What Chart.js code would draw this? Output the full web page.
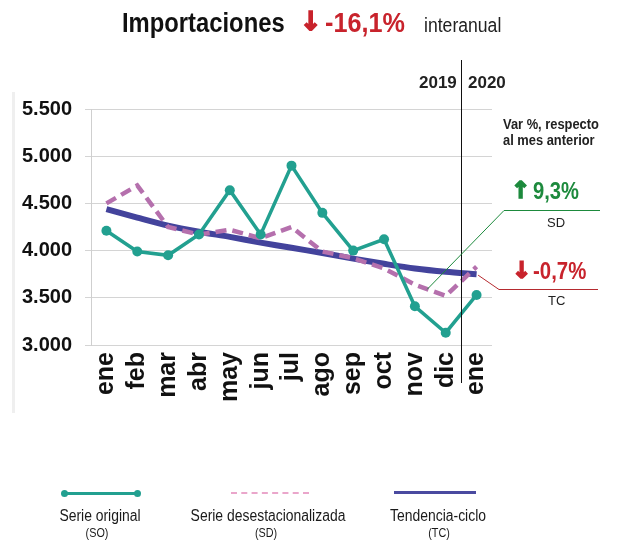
<!DOCTYPE html>
<html lang="es">
<head>
    <meta charset="UTF-8">
    <title>Importaciones</title>
    <script src="https://cdn.jsdelivr.net/npm/chart.js"></script>
    <style>
        body {
            margin: 0;
            width: 622px;
            height: 541px;
            position: relative;
            background: #fff;
            font-family: 'Liberation Sans', Arial, sans-serif;
            color: #1a1a1a;
            overflow: hidden;
        }
        .t { position: absolute; white-space: nowrap; transform-origin: left top; line-height: 1; }
        .c { position: absolute; white-space: nowrap; line-height: 1; transform: translateX(-50%); text-align: center; }
        .arr { position: absolute; white-space: nowrap; line-height: 1; font-family: 'DejaVu Sans', sans-serif; font-weight: bold; -webkit-text-stroke: 1.6px currentColor; }
        #chartBox { position: absolute; left: 0; top: 0; width: 622px; height: 541px; }
        .leftbar { position: absolute; left: 12px; top: 92px; width: 3px; height: 321px; background: #efefef; }
    </style>
</head>
<body>
    <div class="leftbar"></div>
    <div id="chartBox"><canvas id="impChart"></canvas></div>

    <div class="t" style="left:122px;top:9px;font-size:28px;font-weight:bold;color:#111;transform:scaleX(0.85)">Importaciones</div>
    <div class="arr" style="left:300px;top:8px;font-size:26px;color:#c8232c">↓</div>
    <div class="t" style="left:325px;top:9px;font-size:28px;font-weight:bold;color:#c8232c;transform:scaleX(0.9)">-16,1%</div>
    <div class="t" style="left:424px;top:15px;font-size:20px;color:#222;transform:scaleX(0.88)">interanual</div>

    <div class="t" style="left:419px;top:74px;font-size:17px;font-weight:bold;color:#222">2019</div>
    <div class="t" style="left:468px;top:74px;font-size:17px;font-weight:bold;color:#222">2020</div>

    <div class="t" style="left:503px;top:116px;font-size:14px;font-weight:bold;color:#222;line-height:16px;transform:scaleX(0.92)">Var %, respecto<br>al mes anterior</div>

    <div class="arr" style="left:511px;top:179px;font-size:23px;color:#1d8a3d">↑</div>
    <div class="t" style="left:533px;top:179px;font-size:24px;font-weight:bold;color:#1d8a3d;transform:scaleX(0.84)">9,3%</div>
    <div class="t" style="left:547px;top:216px;font-size:13px;color:#222">SD</div>
    <div class="arr" style="left:512px;top:259px;font-size:23px;color:#c8232c">↓</div>
    <div class="t" style="left:533px;top:259px;font-size:24px;font-weight:bold;color:#c8232c;transform:scaleX(0.85)">-0,7%</div>
    <div class="t" style="left:548px;top:294px;font-size:13px;color:#222">TC</div>

    <!-- leyenda -->
    <div style="position:absolute;left:64px;top:492px;width:74px;height:3px;background:#22a090"></div>
    <div style="position:absolute;left:61px;top:490px;width:7px;height:7px;border-radius:50%;background:#22a090"></div>
    <div style="position:absolute;left:134px;top:490px;width:7px;height:7px;border-radius:50%;background:#22a090"></div>
    <div style="position:absolute;left:231px;top:492px;width:78px;height:0;border-top:2px dashed #eaa6cb"></div>
    <div style="position:absolute;left:394px;top:491px;width:82px;height:3px;background:#4a4aa0"></div>

    <div class="c" style="left:100px;top:508px;font-size:16px"><span style="display:inline-block;transform:scaleX(0.87)">Serie original</span></div>
    <div class="c" style="left:97px;top:527px;font-size:12px"><span style="display:inline-block;transform:scaleX(0.9)">(SO)</span></div>
    <div class="c" style="left:268px;top:508px;font-size:16px"><span style="display:inline-block;transform:scaleX(0.87)">Serie desestacionalizada</span></div>
    <div class="c" style="left:266px;top:527px;font-size:12px"><span style="display:inline-block;transform:scaleX(0.9)">(SD)</span></div>
    <div class="c" style="left:438px;top:508px;font-size:16px"><span style="display:inline-block;transform:scaleX(0.87)">Tendencia-ciclo</span></div>
    <div class="c" style="left:439px;top:527px;font-size:12px"><span style="display:inline-block;transform:scaleX(0.9)">(TC)</span></div>

    <script>
        const meses = ['ene', 'feb', 'mar', 'abr', 'may', 'jun', 'jul', 'ago', 'sep', 'oct', 'nov', 'dic', 'ene'];
        const serieOriginal = [4210, 3990, 3950, 4170, 4640, 4170, 4900, 4400, 4000, 4120, 3410, 3130, 3530];
        const serieDesest = [4500, 4690, 4250, 4170, 4220, 4130, 4250, 3990, 3920, 3810, 3640, 3520, 3830];
        const tendenciaCiclo = [4440, 4350, 4265, 4200, 4145, 4085, 4030, 3975, 3915, 3860, 3810, 3775, 3750];
        const yTicks = [3000, 3500, 4000, 4500, 5000, 5500];

        const fmtMiles = v => String(v).replace(/\B(?=(\d{3})+(?!\d))/g, '.');

        // linea 2019|2020 y lineas de las anotaciones
        const extras = {
            id: 'extras',
            afterDraw(chart) {
                const { ctx, scales: { x, y } } = chart;
                ctx.save();
                const xs = (x.getPixelForValue(11) + x.getPixelForValue(12)) / 2;
                ctx.strokeStyle = '#111';
                ctx.lineWidth = 1;
                ctx.beginPath();
                ctx.moveTo(Math.round(xs) + 0.5, 60);
                ctx.lineTo(Math.round(xs) + 0.5, 383);
                ctx.stroke();

                // SD
                ctx.strokeStyle = '#1d8a3d';
                ctx.beginPath();
                ctx.moveTo(x.getPixelForValue(10.4), y.getPixelForValue(3590));
                ctx.lineTo(504, 210.5);
                ctx.lineTo(600, 210.5);
                ctx.stroke();

                // TC
                ctx.strokeStyle = '#b52a2f';
                ctx.beginPath();
                ctx.moveTo(x.getPixelForValue(12.05), y.getPixelForValue(3740));
                ctx.lineTo(499, 289.5);
                ctx.lineTo(598, 289.5);
                ctx.stroke();
                ctx.restore();
            }
        };

        new Chart(document.getElementById('impChart'), {
            type: 'line',
            data: {
                labels: meses,
                datasets: [
                    {
                        label: 'Serie original (SO)',
                        data: serieOriginal,
                        borderColor: '#22a090',
                        backgroundColor: '#22a090',
                        borderWidth: 3.5,
                        pointRadius: 5,
                        pointBorderWidth: 0,
                        tension: 0,
                        order: 0
                    },
                    {
                        label: 'Serie desestacionalizada (SD)',
                        data: serieDesest,
                        borderColor: '#b570ad',
                        borderWidth: 4.5,
                        borderDash: [11, 6],
                        pointRadius: 0,
                        tension: 0,
                        order: 1
                    },
                    {
                        label: 'Tendencia-ciclo (TC)',
                        data: tendenciaCiclo,
                        borderColor: '#43439c',
                        borderWidth: 6,
                        pointRadius: 0,
                        tension: 0.3,
                        order: 2
                    }
                ]
            },
            options: {
                responsive: true,
                maintainAspectRatio: false,
                animation: false,
                layout: { padding: { left: 0, top: 109, right: 130, bottom: 126 } },
                plugins: { legend: { display: false }, tooltip: { enabled: false } },
                scales: {
                    x: {
                        offset: true,
                        grid: { display: false, drawTicks: false },
                        border: { display: false },
                        ticks: {
                            color: '#111',
                            font: { family: 'Liberation Sans', size: 25, weight: 'bold' },
                            minRotation: 90, maxRotation: 90, autoSkip: false, padding: 7
                        },
                        afterFit: s => { s.height = 70; }
                    },
                    y: {
                        min: 3000, max: 5500,
                        afterBuildTicks: s => { s.ticks = yTicks.map(v => ({ value: v })); },
                        grid: { color: '#d4d4d4', lineWidth: 1, tickLength: 6 },
                        border: { display: true, color: '#cfcfcf' },
                        ticks: {
                            color: '#111',
                            font: { family: 'Liberation Sans', size: 20, weight: 'bold' },
                            padding: 13,
                            callback: v => fmtMiles(v)
                        },
                        afterFit: s => { s.width = 91; }
                    }
                }
            },
            plugins: [extras]
        });
    </script>
</body>
</html>
